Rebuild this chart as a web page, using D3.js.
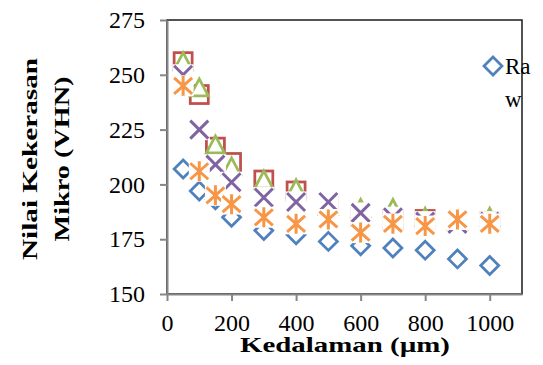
<!DOCTYPE html>
<html>
<head>
<meta charset="utf-8">
<script src="https://cdn.jsdelivr.net/npm/d3@7"></script>
<style>
  body { margin: 0; background: #fff; }
  text { font-family: "Liberation Serif", "Times New Roman", serif; fill: #000; }
</style>
</head>
<body>
<div id="chart"></div>
<script>
// depth positions (µm) and hardness readings (VHN) per series
const depths = [50, 100, 150, 200, 300, 400, 500, 600, 700, 800, 900, 1000];
const rawValues = [207, 197, 193, 185, 179, 177, 174, 172, 171, 170, 166, 163];
const squareValues = [256, 241, 217, 210, 202, 197, 190, 185, 184, 184, 183, 183];
const triangleValues = [256, 244, 218, 208, 202, 198, 190, 189, 189, 185, 183, 185];
const crossValues = [250, 225, 209, 201, 194, 192, 192, 187, 185, 183, 182, 183];
const starValues = [245, 206, 195, 191, 185, 182, 184, 178, 182, 181, 184, 182];

const xTicks = [0, 200, 400, 600, 800, 1000];
const yTicks = [150, 175, 200, 225, 250, 275];
const legendLines = ["Ra", "w"];   // "Raw", wrapped as in the source

const W = 543, H = 365;
const plot = { left: 167, right: 522, top: 20, bottom: 294 };

const svg = d3.select("#chart").append("svg")
    .attr("width", W)
    .attr("height", H);

const x = d3.scaleLinear().domain([0, 1100]).range([plot.left, plot.right]);
const y = d3.scaleLinear().domain([150, 275]).range([plot.bottom, plot.top]);

// plot area frame (top/right dark)
svg.append("rect")
    .attr("x", plot.left)
    .attr("y", plot.top)
    .attr("width", plot.right - plot.left)
    .attr("height", plot.bottom - plot.top)
    .attr("fill", "none")
    .attr("stroke", "#1a1a1a")
    .attr("stroke-width", 1.5);

// axes
const yAxis = svg.append("g")
    .attr("transform", `translate(${plot.left},0)`)
    .call(d3.axisLeft(y).tickValues(yTicks).tickSize(7).tickSizeOuter(0).tickPadding(15));

const xAxis = svg.append("g")
    .attr("transform", `translate(0,${plot.bottom})`)
    .call(d3.axisBottom(x).tickValues(xTicks).tickFormat(d3.format("d"))
        .tickSize(7).tickSizeOuter(0).tickPadding(13));

[yAxis, xAxis].forEach(a => {
    a.selectAll("path, line").attr("stroke", "#868686").attr("stroke-width", 2);
    a.selectAll("text").attr("font-size", 24).attr("font-family", "Liberation Serif").attr("fill", "#000");
});

// marker shapes, white-filled like the spreadsheet markers
const markers = {
    diamond: g => g.append("path").attr("d", "M0,-9L9,0L0,9L-9,0Z"),
    square: g => g.append("rect").attr("x", -9).attr("y", -9).attr("width", 18).attr("height", 18),
    triangle: g => g.append("path").attr("d", "M0,-9L9,8L-9,8Z"),
    cross: g => {
        g.append("rect").attr("x", -10.5).attr("y", -10.5).attr("width", 21).attr("height", 21).attr("stroke", "none");
        g.append("path").attr("d", "M-9,-9L9,9M9,-9L-9,9").attr("fill", "none");
    },
    star: g => {
        g.append("rect").attr("x", -10.5).attr("y", -10.5).attr("width", 21).attr("height", 21).attr("stroke", "none");
        g.append("path").attr("d", "M-9,-8L9,8M9,-8L-9,8M0,-10L0,10").attr("fill", "none");
    }
};

const series = [
    { values: rawValues, color: "#4F81BD", shape: "diamond", width: 2.75 },
    { values: squareValues, color: "#C0504D", shape: "square", width: 2.75 },
    { values: triangleValues, color: "#9BBB59", shape: "triangle", width: 2.75 },
    { values: crossValues, color: "#8064A2", shape: "cross", width: 3 },
    { values: starValues, color: "#F79646", shape: "star", width: 3 }
];

series.forEach(s => {
    const pts = svg.append("g").selectAll("g")
        .data(depths.map((d, i) => [d, s.values[i]]))
        .enter().append("g")
        .attr("transform", d => `translate(${x(d[0])},${y(d[1])})`)
        .attr("fill", "#fff")
        .attr("stroke", s.color)
        .attr("stroke-width", s.width);
    pts.each(function() { markers[s.shape](d3.select(this)); });
});

// legend (cut off at the right in the source)
const leg = svg.append("g");
leg.append("g")
    .attr("transform", "translate(493,66)")
    .attr("fill", "#fff")
    .attr("stroke", "#4F81BD")
    .attr("stroke-width", 2.75)
    .call(markers.diamond);
leg.selectAll("text.leg")
    .data(legendLines)
    .enter().append("text")
    .attr("class", "leg")
    .attr("x", 505)
    .attr("y", (d, i) => 74 + i * 33)
    .attr("font-size", 23)
    .text(d => d);

// axis titles (source font runs wider than Liberation Serif, so stretch to its length)
svg.append("text")
    .attr("x", 345)
    .attr("y", 352)
    .attr("text-anchor", "middle")
    .attr("font-size", 22)
    .attr("font-weight", "bold")
    .attr("textLength", 210)
    .attr("lengthAdjust", "spacingAndGlyphs")
    .text("Kedalaman (µm)");

const yTitle = svg.append("g")
    .attr("transform", "translate(0,159) rotate(-90)");
yTitle.append("text")
    .attr("x", 0).attr("y", 37)
    .attr("text-anchor", "middle")
    .attr("font-size", 22)
    .attr("font-weight", "bold")
    .attr("textLength", 202)
    .attr("lengthAdjust", "spacingAndGlyphs")
    .text("Nilai Kekerasan");
yTitle.append("text")
    .attr("x", 0).attr("y", 69)
    .attr("text-anchor", "middle")
    .attr("font-size", 22)
    .attr("font-weight", "bold")
    .attr("textLength", 165)
    .attr("lengthAdjust", "spacingAndGlyphs")
    .text("Mikro (VHN)");
</script>
</body>
</html>
